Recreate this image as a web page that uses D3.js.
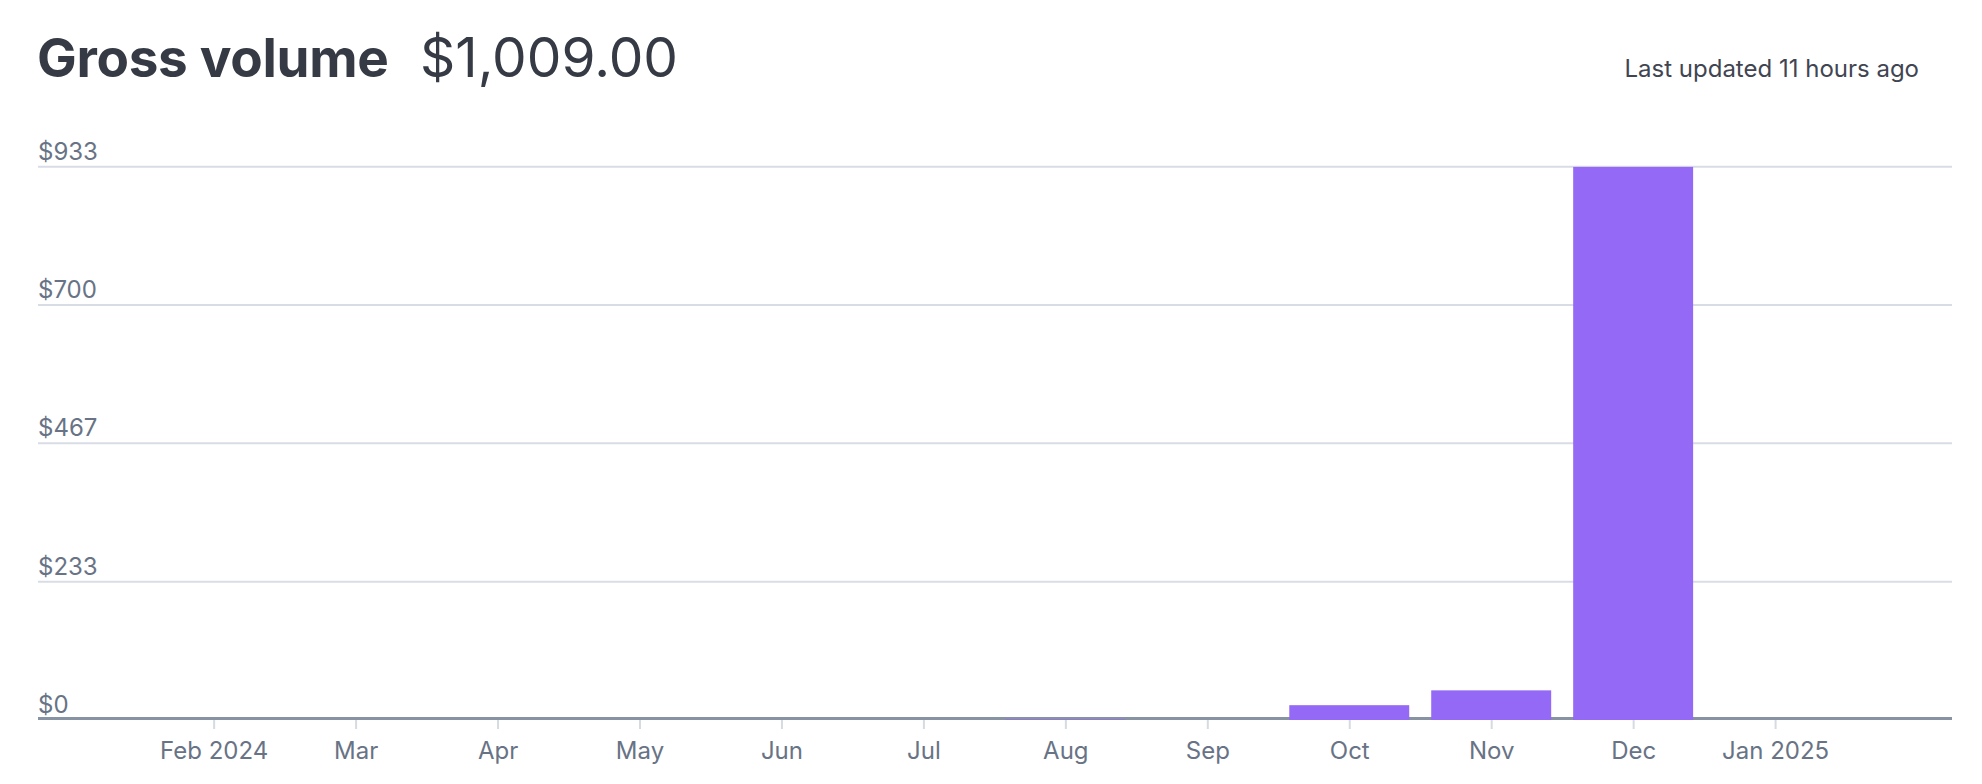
<!DOCTYPE html>
<html>
<head>
<meta charset="utf-8">
<script src="https://cdn.jsdelivr.net/npm/d3@7"></script>
<style>
  html, body { margin: 0; padding: 0; background: #ffffff; }
  svg { display: block; font-family: Inter, "Noto Sans", sans-serif; }
</style>
</head>
<body>
<svg id="chart" width="1982" height="784"></svg>
<script>
// ---- data ----
const months = ["2024-01","2024-02","2024-03","2024-04","2024-05","2024-06","2024-07","2024-08","2024-09","2024-10","2024-11","2024-12","2025-01"];
const grossVolume = [0, 0, 0, 0, 0, 0, 0, 1, 0, 25, 50, 933, 0];
const tickMonths = ["2024-02","2024-03","2024-04","2024-05","2024-06","2024-07","2024-08","2024-09","2024-10","2024-11","2024-12","2025-01"];
const tickLabels = ["Feb 2024","Mar","Apr","May","Jun","Jul","Aug","Sep","Oct","Nov","Dec","Jan 2025"];
const yMax = 933.33;
const yTickValues = [0, 233.33, 466.67, 700, 933.33];
const yTickLabels = ["$0","$233","$467","$700","$933"];
const titleText = "Gross volume";
const totalText = "$1,009.00";
const updatedText = "Last updated 11 hours ago";

// ---- layout ----
const plotLeft = 38, plotRight = 1952;
const svg = d3.select("#chart");

const x = d3.scalePoint().domain(months).range([71.7, 1775.1]);
const step = x.step();
const barW = step * 0.845;
const y = d3.scaleLinear().domain([0, yMax]).range([720, 166.7]);

// header
svg.append("text")
  .attr("x", 37).attr("y", 77)
  .attr("font-size", 53).attr("font-weight", 700)
  .attr("letter-spacing", -0.3)
  .attr("fill", "#353a44")
  .text(titleText);
svg.append("text")
  .attr("x", 420).attr("y", 77)
  .attr("font-size", 55).attr("font-weight", 400)
  .attr("fill", "#353a44")
  .text(totalText);
svg.append("text")
  .attr("x", 1919).attr("y", 77)
  .attr("text-anchor", "end")
  .attr("font-size", 24).attr("font-weight", 400)
  .attr("fill", "#414552")
  .text(updatedText);

// gridlines (non-zero ticks)
const grid = svg.append("g");
grid.selectAll("line")
  .data(yTickValues.filter(v => v > 0))
  .join("line")
  .attr("x1", plotLeft).attr("x2", plotRight)
  .attr("y1", d => y(d)).attr("y2", d => y(d))
  .attr("stroke", "#d8dde5").attr("stroke-width", 2);

// y labels
svg.append("g").selectAll("text")
  .data(yTickValues)
  .join("text")
  .attr("x", plotLeft)
  .attr("y", d => y(d) - 7)
  .attr("font-size", 24)
  .attr("fill", "#687385")
  .text((d, i) => yTickLabels[i]);

// x axis line
svg.append("line")
  .attr("x1", plotLeft).attr("x2", plotRight)
  .attr("y1", y(0) - 1.5).attr("y2", y(0) - 1.5)
  .attr("stroke", "#8792a2").attr("stroke-width", 3);

// x ticks via d3 axis
const xAxis = d3.axisBottom(x)
  .tickValues(tickMonths)
  .tickSize(9)
  .tickPadding(13)
  .tickFormat(d => tickLabels[tickMonths.indexOf(d)]);
const gx = svg.append("g").attr("transform", `translate(0,${y(0)})`).call(xAxis);
gx.select(".domain").remove();
gx.selectAll(".tick line").attr("stroke", "#d5dbe1").attr("stroke-width", 2);
gx.selectAll(".tick text")
  .attr("font-family", "Inter, 'Noto Sans', sans-serif")
  .attr("font-size", 24)
  .attr("fill", "#687385");

// bars
svg.append("g").selectAll("rect")
  .data(months.map((m, i) => ({ m, v: grossVolume[i] })).filter(d => d.v > 0))
  .join("rect")
  .attr("x", d => x(d.m) - barW / 2)
  .attr("width", barW)
  .attr("y", d => y(d.v))
  .attr("height", d => y(0) - y(d.v))
  .attr("fill", "#9369f5");
</script>
</body>
</html>
